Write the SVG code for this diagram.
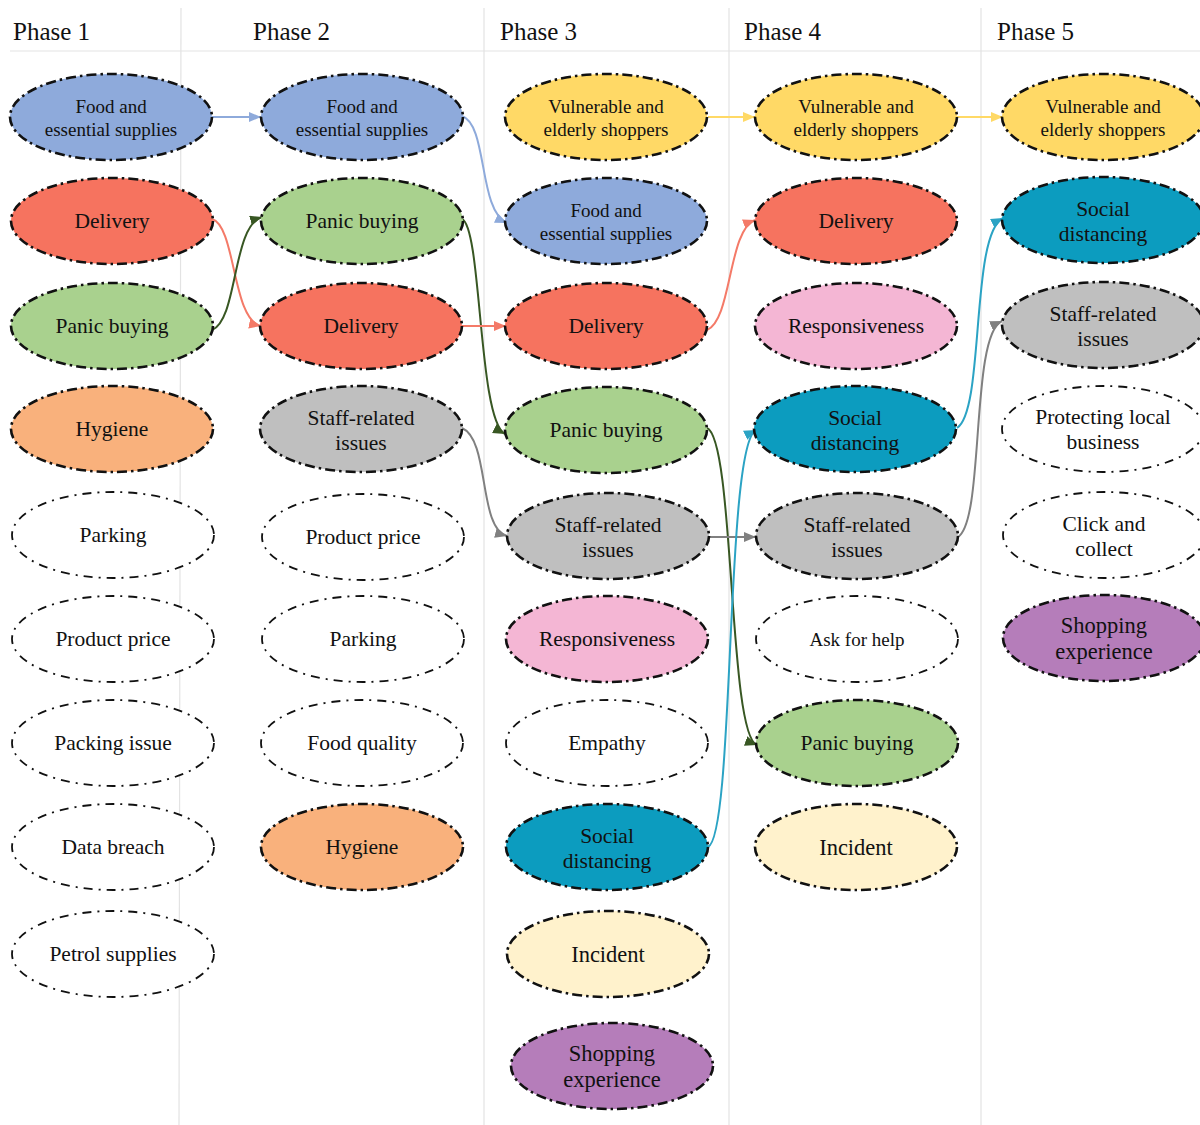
<svg xmlns="http://www.w3.org/2000/svg" width="1200" height="1125" viewBox="0 0 1200 1125">
<defs>
<style>
.bg{fill:#ffffff}
.sep{stroke:#e3e3e3;stroke-width:1.2;fill:none}
.hdr{font-family:"Liberation Serif","Times New Roman",serif;font-size:25px;fill:#111}
.n ellipse{stroke:#111;stroke-width:2.6;stroke-dasharray:10 4 2.5 4}
.w ellipse{fill:#ffffff;stroke:#111;stroke-width:1.8;stroke-dasharray:9 6 2 6}
.n text,.w text{font-family:"Liberation Serif","Times New Roman",serif;font-size:21.5px;fill:#111;text-anchor:middle}
.n text.s,.w text.s{font-size:19px}
.n text.l{font-size:22.5px}
.blue{fill:#8eaadb}.yel{fill:#ffd966}.red{fill:#f6735f}.grn{fill:#a9d18e}.org{fill:#f9b17c}
.gry{fill:#bfbfbf}.pnk{fill:#f4b6d4}.tea{fill:#0c9cbf}.crm{fill:#fff2cc}.pur{fill:#b57dba}
.c{fill:none;stroke-width:2}
</style>
<marker id="aBlue" markerUnits="userSpaceOnUse" markerWidth="14" markerHeight="12" refX="12" refY="5" orient="auto"><path d="M0,0 L12,5 L0,10 z" fill="#8eaadb"/></marker>
<marker id="aRed" markerUnits="userSpaceOnUse" markerWidth="14" markerHeight="12" refX="12" refY="5" orient="auto"><path d="M0,0 L12,5 L0,10 z" fill="#f47a68"/></marker>
<marker id="aGrn" markerUnits="userSpaceOnUse" markerWidth="14" markerHeight="12" refX="12" refY="5" orient="auto"><path d="M0,0 L12,5 L0,10 z" fill="#385723"/></marker>
<marker id="aGry" markerUnits="userSpaceOnUse" markerWidth="14" markerHeight="12" refX="12" refY="5" orient="auto"><path d="M0,0 L12,5 L0,10 z" fill="#808080"/></marker>
<marker id="aYel" markerUnits="userSpaceOnUse" markerWidth="14" markerHeight="12" refX="12" refY="5" orient="auto"><path d="M0,0 L12,5 L0,10 z" fill="#ffd966"/></marker>
<marker id="aTea" markerUnits="userSpaceOnUse" markerWidth="14" markerHeight="12" refX="12" refY="5" orient="auto"><path d="M0,0 L12,5 L0,10 z" fill="#2ba3c4"/></marker>
</defs>
<rect class="bg" x="0" y="0" width="1200" height="1125"/>
<g id="grid">
<line class="sep" x1="10" y1="51" x2="1200" y2="51"/>
<line class="sep" x1="181" y1="8" x2="179" y2="1125"/>
<line class="sep" x1="484" y1="8" x2="484" y2="1125"/>
<line class="sep" x1="729" y1="8" x2="729" y2="1125"/>
<line class="sep" x1="981" y1="8" x2="981" y2="1125"/>
</g>
<g id="headers">
<text class="hdr" x="13" y="40">Phase 1</text>
<text class="hdr" x="253" y="40">Phase 2</text>
<text class="hdr" x="500" y="40">Phase 3</text>
<text class="hdr" x="744" y="40">Phase 4</text>
<text class="hdr" x="997" y="40">Phase 5</text>
</g>
<g id="connectors">
<path class="c" stroke="#8eaadb" marker-end="url(#aBlue)" d="M212,117 L261,117"/>
<path class="c" stroke="#f47a68" marker-end="url(#aRed)" d="M212,219 C236,226 232,320 261,326"/>
<path class="c" stroke="#385723" marker-end="url(#aGrn)" d="M212,330 C238,320 232,226 262,217"/>
<path class="c" stroke="#8eaadb" marker-end="url(#aBlue)" d="M462,116 C488,125 478,210 507,223"/>
<path class="c" stroke="#385723" marker-end="url(#aGrn)" d="M462,219 C482,228 478,420 505,434"/>
<path class="c" stroke="#f47a68" marker-end="url(#aRed)" d="M462,326 L506,326"/>
<path class="c" stroke="#808080" marker-end="url(#aGry)" d="M462,428 C490,440 478,528 507,536"/>
<path class="c" stroke="#ffd966" marker-end="url(#aYel)" d="M708,117 L755,117"/>
<path class="c" stroke="#f47a68" marker-end="url(#aRed)" d="M707,330 C732,320 728,230 755,220"/>
<path class="c" stroke="#385723" marker-end="url(#aGrn)" d="M707,428 C735,440 728,735 757,745"/>
<path class="c" stroke="#808080" marker-end="url(#aGry)" d="M709,537 L756,537"/>
<path class="c" stroke="#2ba3c4" marker-end="url(#aTea)" d="M708,847 C735,835 725,445 756,430"/>
<path class="c" stroke="#ffd966" marker-end="url(#aYel)" d="M957,117 L1003,117"/>
<path class="c" stroke="#2ba3c4" marker-end="url(#aTea)" d="M957,428 C985,410 970,235 1003,218"/>
<path class="c" stroke="#808080" marker-end="url(#aGry)" d="M958,537 C985,520 970,335 1002,321"/>
</g>
<!-- Phase 1 -->
<g id="p1-food" class="n"><ellipse class="blue" cx="111" cy="117" rx="101" ry="43"/><text class="s" x="111" y="113">Food and</text><text class="s" x="111" y="136">essential supplies</text></g>
<g id="p1-delivery" class="n"><ellipse class="red" cx="112" cy="221" rx="101" ry="43"/><text x="112" y="228">Delivery</text></g>
<g id="p1-panic" class="n"><ellipse class="grn" cx="112" cy="326" rx="101" ry="43"/><text x="112" y="333">Panic buying</text></g>
<g id="p1-hygiene" class="n"><ellipse class="org" cx="112" cy="429" rx="101" ry="43"/><text x="112" y="436">Hygiene</text></g>
<g id="p1-parking" class="w"><ellipse cx="113" cy="535" rx="101" ry="43"/><text x="113" y="542">Parking</text></g>
<g id="p1-price" class="w"><ellipse cx="113" cy="639" rx="101" ry="43"/><text x="113" y="646">Product price</text></g>
<g id="p1-packing" class="w"><ellipse cx="113" cy="743" rx="101" ry="43"/><text x="113" y="750">Packing issue</text></g>
<g id="p1-breach" class="w"><ellipse cx="113" cy="847" rx="101" ry="43"/><text x="113" y="854">Data breach</text></g>
<g id="p1-petrol" class="w"><ellipse cx="113" cy="954" rx="101" ry="43"/><text x="113" y="961">Petrol supplies</text></g>
<!-- Phase 2 -->
<g id="p2-food" class="n"><ellipse class="blue" cx="362" cy="117" rx="101" ry="43"/><text class="s" x="362" y="113">Food and</text><text class="s" x="362" y="136">essential supplies</text></g>
<g id="p2-panic" class="n"><ellipse class="grn" cx="362" cy="221" rx="101" ry="43"/><text x="362" y="228">Panic buying</text></g>
<g id="p2-delivery" class="n"><ellipse class="red" cx="361" cy="326" rx="101" ry="43"/><text x="361" y="333">Delivery</text></g>
<g id="p2-staff" class="n"><ellipse class="gry" cx="361" cy="429" rx="101" ry="43"/><text x="361" y="425">Staff-related</text><text x="361" y="450">issues</text></g>
<g id="p2-price" class="w"><ellipse cx="363" cy="537" rx="101" ry="43"/><text x="363" y="544">Product price</text></g>
<g id="p2-parking" class="w"><ellipse cx="363" cy="639" rx="101" ry="43"/><text x="363" y="646">Parking</text></g>
<g id="p2-quality" class="w"><ellipse cx="362" cy="743" rx="101" ry="43"/><text x="362" y="750">Food quality</text></g>
<g id="p2-hygiene" class="n"><ellipse class="org" cx="362" cy="847" rx="101" ry="43"/><text x="362" y="854">Hygiene</text></g>
<!-- Phase 3 -->
<g id="p3-vulnerable" class="n"><ellipse class="yel" cx="606" cy="117" rx="101" ry="43"/><text class="s" x="606" y="113">Vulnerable and</text><text class="s" x="606" y="136">elderly shoppers</text></g>
<g id="p3-food" class="n"><ellipse class="blue" cx="606" cy="221" rx="101" ry="43"/><text class="s" x="606" y="217">Food and</text><text class="s" x="606" y="240">essential supplies</text></g>
<g id="p3-delivery" class="n"><ellipse class="red" cx="606" cy="326" rx="101" ry="43"/><text x="606" y="333">Delivery</text></g>
<g id="p3-panic" class="n"><ellipse class="grn" cx="606" cy="430" rx="101" ry="43"/><text x="606" y="437">Panic buying</text></g>
<g id="p3-staff" class="n"><ellipse class="gry" cx="608" cy="536" rx="101" ry="43"/><text x="608" y="532">Staff-related</text><text x="608" y="557">issues</text></g>
<g id="p3-responsiveness" class="n"><ellipse class="pnk" cx="607" cy="639" rx="101" ry="43"/><text x="607" y="646">Responsiveness</text></g>
<g id="p3-empathy" class="w"><ellipse cx="607" cy="743" rx="101" ry="43"/><text x="607" y="750">Empathy</text></g>
<g id="p3-social" class="n"><ellipse class="tea" cx="607" cy="847" rx="101" ry="43"/><text x="607" y="843">Social</text><text x="607" y="868">distancing</text></g>
<g id="p3-incident" class="n"><ellipse class="crm" cx="608" cy="954" rx="101" ry="43"/><text class="l" x="608" y="962">Incident</text></g>
<g id="p3-shopping" class="n"><ellipse class="pur" cx="612" cy="1066" rx="101" ry="43"/><text class="l" x="612" y="1061">Shopping</text><text class="l" x="612" y="1087">experience</text></g>
<!-- Phase 4 -->
<g id="p4-vulnerable" class="n"><ellipse class="yel" cx="856" cy="117" rx="101" ry="43"/><text class="s" x="856" y="113">Vulnerable and</text><text class="s" x="856" y="136">elderly shoppers</text></g>
<g id="p4-delivery" class="n"><ellipse class="red" cx="856" cy="221" rx="101" ry="43"/><text x="856" y="228">Delivery</text></g>
<g id="p4-responsiveness" class="n"><ellipse class="pnk" cx="856" cy="326" rx="101" ry="43"/><text x="856" y="333">Responsiveness</text></g>
<g id="p4-social" class="n"><ellipse class="tea" cx="855" cy="429" rx="101" ry="43"/><text x="855" y="425">Social</text><text x="855" y="450">distancing</text></g>
<g id="p4-staff" class="n"><ellipse class="gry" cx="857" cy="536" rx="101" ry="43"/><text x="857" y="532">Staff-related</text><text x="857" y="557">issues</text></g>
<g id="p4-ask" class="w"><ellipse cx="857" cy="639" rx="101" ry="43"/><text class="s" x="857" y="646">Ask for help</text></g>
<g id="p4-panic" class="n"><ellipse class="grn" cx="857" cy="743" rx="101" ry="43"/><text x="857" y="750">Panic buying</text></g>
<g id="p4-incident" class="n"><ellipse class="crm" cx="856" cy="847" rx="101" ry="43"/><text class="l" x="856" y="855">Incident</text></g>
<!-- Phase 5 -->
<g id="p5-vulnerable" class="n"><ellipse class="yel" cx="1103" cy="117" rx="101" ry="43"/><text class="s" x="1103" y="113">Vulnerable and</text><text class="s" x="1103" y="136">elderly shoppers</text></g>
<g id="p5-social" class="n"><ellipse class="tea" cx="1103" cy="220" rx="101" ry="43"/><text x="1103" y="216">Social</text><text x="1103" y="241">distancing</text></g>
<g id="p5-staff" class="n"><ellipse class="gry" cx="1103" cy="325" rx="101" ry="43"/><text x="1103" y="321">Staff-related</text><text x="1103" y="346">issues</text></g>
<g id="p5-protecting" class="w"><ellipse cx="1103" cy="429" rx="101" ry="43"/><text x="1103" y="424">Protecting local</text><text x="1103" y="449">business</text></g>
<g id="p5-click" class="w"><ellipse cx="1104" cy="535" rx="101" ry="43"/><text x="1104" y="531">Click and</text><text x="1104" y="556">collect</text></g>
<g id="p5-shopping" class="n"><ellipse class="pur" cx="1104" cy="638" rx="101" ry="43"/><text class="l" x="1104" y="633">Shopping</text><text class="l" x="1104" y="659">experience</text></g>
</svg>
